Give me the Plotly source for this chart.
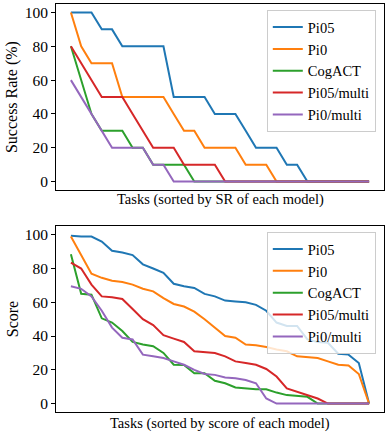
import plotly.graph_objects as go

models = ["Pi05", "Pi0", "CogACT", "Pi05/multi", "Pi0/multi"]
colors = ["#1f77b4", "#ff7f0e", "#2ca02c", "#d62728", "#9467bd"]

# Top: success rate (%) per task, sorted descending for each model
sr_pi05 = [100, 100, 100, 90, 90, 80, 80, 80, 80, 80, 50, 50, 50, 50, 40, 40, 40, 30, 20, 20,
           20, 10, 10, 0, 0, 0, 0, 0, 0, 0]
sr_pi0 = [100, 80, 70, 70, 70, 50, 50, 50, 50, 50, 40, 30, 30, 20, 20, 20, 20, 10, 10, 10,
          0, 0, 0, 0, 0, 0, 0, 0, 0, 0]
sr_cogact = [80, 60, 40, 30, 30, 30, 20, 20, 10, 10, 10, 10, 0, 0, 0, 0, 0, 0, 0, 0,
             0, 0, 0, 0, 0, 0, 0, 0, 0, 0]
sr_pi05_multi = [80, 70, 60, 50, 50, 50, 40, 30, 20, 20, 20, 10, 10, 10, 10, 0, 0, 0, 0, 0,
                 0, 0, 0, 0, 0, 0, 0, 0, 0, 0]
sr_pi0_multi = [60, 50, 40, 30, 20, 20, 20, 20, 10, 10, 0, 0, 0, 0, 0, 0, 0, 0, 0, 0,
                0, 0, 0, 0, 0, 0, 0, 0, 0, 0]

# Bottom: score per task, sorted descending for each model
sc_pi05 = [99.5, 99, 99, 96, 90.5, 89.5, 88, 82.5, 80, 77.5, 71, 69.5, 68.5, 65, 63.5, 61, 60.5,
           60, 58.5, 55, 48, 46, 46, 38, 36.5, 36, 29.5, 29, 24, 0]
sc_pi0 = [99, 88, 77, 74.5, 72.8, 72, 70.5, 68, 66.5, 62.5, 59, 57.5, 54.5, 50, 45, 40, 39, 35,
          34.5, 33.5, 32, 31, 28, 27.5, 27, 25, 23, 22.5, 17.5, 0]
sc_cogact = [88.5, 65, 64.5, 50.5, 48, 43, 36.5, 35, 34, 30, 23, 22.8, 18, 18, 13.5, 12, 9.5, 9,
             8.5, 8.5, 6.5, 5, 4.5, 4, 0, 0, 0, 0, 0, 0]
sc_pi05_multi = [83.5, 80, 70.5, 63.5, 63, 62, 56, 50, 46.5, 40.5, 38.5, 36.5, 31, 30.5, 30, 28,
                 25, 24, 23, 20.5, 16, 9, 7, 5, 3, 0, 0, 0, 0, 0]
sc_pi0_multi = [69.5, 68, 63.5, 55, 45, 39, 38, 29, 28, 27, 25, 23, 20, 17.5, 17, 15.5, 15, 14,
                12, 3, 0, 0, 0, 0, 0, 0, 0, 0, 0, 0]

y_ticks = [0, 20, 40, 60, 80, 100]

top_series = [sr_pi05, sr_pi0, sr_cogact, sr_pi05_multi, sr_pi0_multi]
bot_series = [sc_pi05, sc_pi0, sc_cogact, sc_pi05_multi, sc_pi0_multi]

FONT = "Liberation Serif, Times New Roman, serif"

fig = go.Figure()
for name, col, vals in zip(models, colors, top_series):
    fig.add_trace(go.Scatter(x=list(range(len(vals))), y=vals, mode="lines", name=name,
                             line=dict(color=col, width=2), xaxis="x", yaxis="y",
                             legend="legend", hoverinfo="skip"))
for name, col, vals in zip(models, colors, bot_series):
    fig.add_trace(go.Scatter(x=list(range(len(vals))), y=vals, mode="lines", name=name,
                             line=dict(color=col, width=2), xaxis="x2", yaxis="y2",
                             legend="legend2", hoverinfo="skip"))

n = len(sr_pi05)
xr = [-0.05 * (n - 1), (n - 1) * 1.05]
axis_common = dict(showline=True, linecolor="black", linewidth=1, mirror=True,
                   showgrid=False, zeroline=False)
xcommon = dict(axis_common, range=xr, showticklabels=False, ticks="")
ycommon = dict(axis_common, range=[-5, 105], tickvals=y_ticks, ticks="outside",
               ticklen=4, tickwidth=1, tickcolor="black",
               tickfont=dict(family=FONT, size=15.5, color="black"))

legend_common = dict(bgcolor="rgba(255,255,255,0.8)", bordercolor="#cccccc", borderwidth=1,
                     font=dict(family=FONT, size=14.5, color="black"),
                     xanchor="right", yanchor="top", itemwidth=30, tracegroupgap=0)

fig.update_layout(
    width=386, height=434,
    margin=dict(l=56, r=2, t=4, b=22),
    paper_bgcolor="white", plot_bgcolor="white",
    font=dict(family=FONT, size=14.5, color="black"),
    xaxis=dict(xcommon, domain=[0, 1], anchor="y"),
    yaxis=dict(ycommon, domain=[0.544, 1.0], anchor="x"),
    xaxis2=dict(xcommon, domain=[0, 1], anchor="y2"),
    yaxis2=dict(ycommon, domain=[0.0, 0.455], anchor="x2"),
    legend=dict(legend_common, x=0.975, y=0.985),
    legend2=dict(legend_common, x=0.975, y=0.441),
    annotations=[
        dict(text="Tasks (sorted by SR of each model)", x=0.5, y=0.52, xref="paper", yref="paper",
             xanchor="center", yanchor="middle", showarrow=False,
             font=dict(family=FONT, size=14.5, color="black")),
        dict(text="Tasks (sorted by score of each model)", x=0.5, y=-0.027, xref="paper",
             yref="paper", xanchor="center", yanchor="middle", showarrow=False,
             font=dict(family=FONT, size=14.5, color="black")),
        dict(text="Success Rate (%)", x=-0.134, y=0.772, xref="paper", yref="paper",
             xanchor="center", yanchor="middle", textangle=-90, showarrow=False,
             font=dict(family=FONT, size=16, color="black")),
        dict(text="Score", x=-0.134, y=0.2275, xref="paper", yref="paper",
             xanchor="center", yanchor="middle", textangle=-90, showarrow=False,
             font=dict(family=FONT, size=16, color="black")),
    ],
)

fig.write_html("out.html", config={"displayModeBar": False, "staticPlot": True},
               post_script="document.body.style.margin='0';document.body.style.padding='0';")
